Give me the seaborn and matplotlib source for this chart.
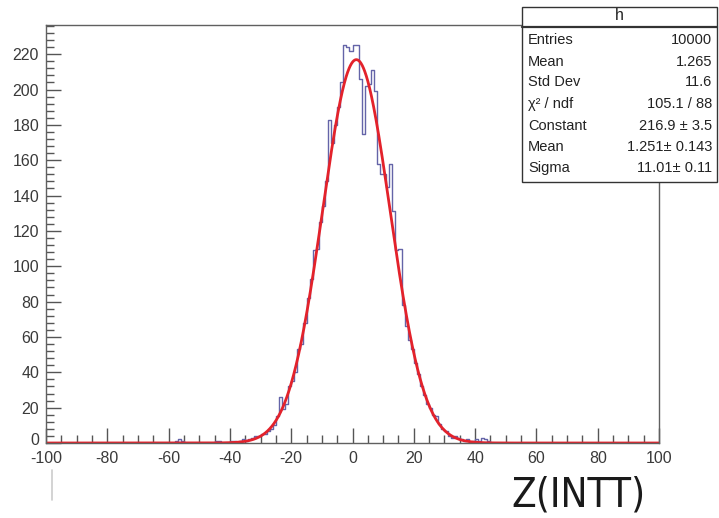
import numpy as np
import pandas as pd
import matplotlib
matplotlib.use("Agg")
import matplotlib.pyplot as plt
from matplotlib.patches import Rectangle
from matplotlib.lines import Line2D
from matplotlib.ticker import MultipleLocator
from matplotlib.transforms import ScaledTranslation
import seaborn as sns

# ---- histogram definition: 200 unit-width bins on [-100, 100] ----
x_lo, x_hi, n_bins = -100, 100, 200
first_edge = -60  # left edge of the first listed bin
counts_listed = [
    # -60 .. -41
    0, 0, 1, 2, 1, 0, 0, 0, 0, 0, 0, 0, 0, 0, 0, 1, 1, 0, 0, 0,
    # -40 .. -21
    1, 1, 0, 1, 2, 1, 2, 3, 4, 4, 5, 5, 7, 8, 10, 15, 26, 19, 22, 32,
    # -20 .. -1
    35, 40, 53, 56, 68, 82, 93, 109, 110, 125, 134, 148, 183, 170, 180, 190, 204, 225, 224, 222,
    # 0 .. 19
    225, 225, 206, 175, 202, 203, 211, 199, 158, 152, 152, 145, 158, 131, 109, 110, 78, 66, 58, 53,
    # 20 .. 45
    45, 39, 32, 27, 22, 20, 16, 15, 11, 8, 7, 4, 3, 4, 3, 2, 1, 2, 0, 1, 2, 1, 3, 2, 1, 0,
]

# ---- Gaussian fit results ----
fit_constant, fit_constant_err = 216.9, 3.5
fit_mean, fit_mean_err = 1.251, 0.143
fit_sigma, fit_sigma_err = 11.01, 0.11

# ---- statistics box ----
hist_name = "h"
stat_labels = ["Entries", "Mean", "Std Dev", "χ² / ndf", "Constant", "Mean", "Sigma"]
stat_values = ["10000", "1.265", "11.6", "105.1 / 88",
               f"{fit_constant} ± {fit_constant_err}",
               f"{fit_mean}± {fit_mean_err}",
               f"{fit_sigma}± {fit_sigma_err}"]

x_ticks = list(range(-100, 101, 20))
y_ticks = list(range(0, 221, 20))
axis_title = "Z(INTT)"

# ---- build table ----
bin_width = (x_hi - x_lo) / n_bins
centers = x_lo + bin_width * (np.arange(n_bins) + 0.5)
counts = np.zeros(n_bins)
start = int((first_edge - x_lo) / bin_width)
counts[start:start + len(counts_listed)] = counts_listed
hist_df = pd.DataFrame({"z": centers, "n": counts})

zz = np.linspace(x_lo, x_hi, 2001)
fit_df = pd.DataFrame({
    "z": zz,
    "f": fit_constant * np.exp(-0.5 * ((zz - fit_mean) / fit_sigma) ** 2),
})

sns.set_theme(style="ticks")
plt.rcParams["font.family"] = ["Liberation Sans", "DejaVu Sans"]
plt.rcParams["axes.unicode_minus"] = False

W, H = 719, 518
fig = plt.figure(figsize=(W / 100, H / 100), dpi=100)
ax = fig.add_axes([46 / W, 1 - 443 / H, (659 - 46) / W, (443 - 25) / H])

sns.histplot(data=hist_df, x="z", weights="n", binwidth=bin_width,
             binrange=(x_lo, x_hi), element="step", fill=False,
             color="#6464a8", linewidth=1.0, ax=ax)
sns.lineplot(data=fit_df, x="z", y="f", color="#e3222b", linewidth=2.0,
             estimator=None, sort=False, ax=ax)

ax.set_xlim(x_lo, x_hi)
ax.set_ylim(0, 236.5)
ax.set_xlabel("")
ax.set_ylabel("")
ax.set_xticks(x_ticks)
ax.set_yticks(y_ticks)
ax.xaxis.set_minor_locator(MultipleLocator(5))
ax.yaxis.set_minor_locator(MultipleLocator(4))
ax.tick_params(which="both", direction="in", color="#555555", width=1.0,
               labelsize=11.5, labelcolor="#3a3a3a")
ax.tick_params(which="major", length=11)
ax.tick_params(which="minor", length=5.5)
ax.tick_params(axis="x", pad=6)
ax.tick_params(axis="y", pad=5)
for s in ax.spines.values():
    s.set_color("#606060")
    s.set_linewidth(1.0)

# lift the "0" count label a little so it clears the "-100" label
fig.canvas.draw()
zero_lbl = ax.yaxis.get_major_ticks()[0].label1
zero_lbl.set_transform(zero_lbl.get_transform()
                       + ScaledTranslation(0, 4 / 100, fig.dpi_scale_trans))

# statistics box in figure pixels
def fx(px):
    return px / W

def fy(py):
    return 1 - py / H

box = Rectangle((fx(522), fy(182)), fx(717) - fx(522), fy(7) - fy(182),
                transform=fig.transFigure, facecolor="white",
                edgecolor="#333333", linewidth=1.0, zorder=5)
fig.add_artist(box)
fig.add_artist(Line2D([fx(522), fx(717)], [fy(27), fy(27)],
                      transform=fig.transFigure, color="#333333",
                      linewidth=1.6, zorder=6))
fig.text(fx(619), fy(16), hist_name, ha="center", va="center",
         fontsize=11.5, color="#222222", zorder=7)
row_y = [40, 61.5, 82.5, 104, 125.5, 147, 168]
for lab, val, py in zip(stat_labels, stat_values, row_y):
    fig.text(fx(528), fy(py), lab, ha="left", va="center", fontsize=10.5,
             color="#222222", zorder=7)
    fig.text(fx(712), fy(py), val, ha="right", va="center", fontsize=10.5,
             color="#222222", zorder=7)

# axis title at lower right
fig.text(fx(578), fy(495), axis_title, ha="center", va="center",
         fontsize=29, color="#1a1a1a", family=["DejaVu Sans"],
         fontstretch="condensed", fontweight="light")
fig.add_artist(Line2D([fx(52), fx(52)], [fy(470), fy(500)],
                      transform=fig.transFigure, color="#cccccc", linewidth=1.2))

fig.savefig("out.png", dpi=100)
